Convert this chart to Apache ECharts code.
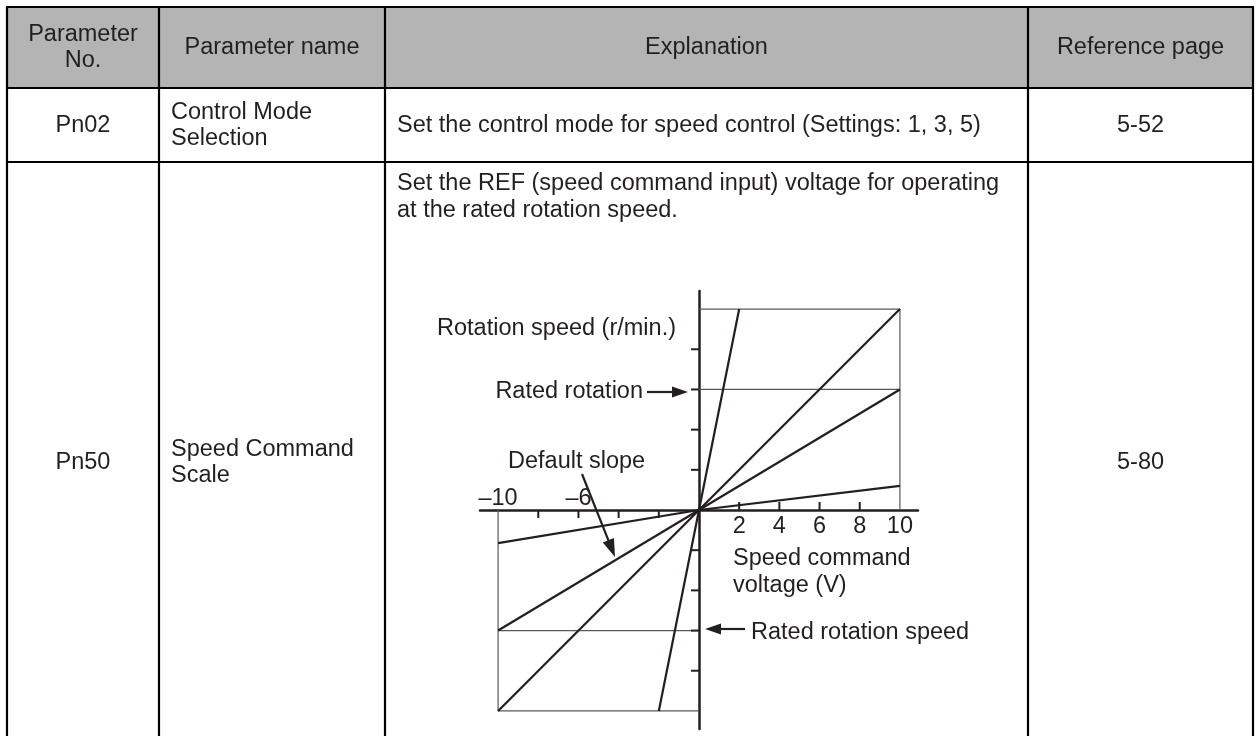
<!DOCTYPE html>
<html>
<head>
<meta charset="utf-8">
<script src="https://cdn.jsdelivr.net/npm/echarts@6/dist/echarts.min.js"></script>
<style>html,body{margin:0;padding:0;background:#fff}#c{width:1256px;height:736px}</style>
</head>
<body>
<div id="c"></div>
<script>
// ---------- table content ----------
const headers = ['Parameter\nNo.', 'Parameter name', 'Explanation', 'Reference page'];
const paramNos = ['Pn02', 'Pn50'];
const paramNames = ['Control Mode\nSelection', 'Speed Command\nScale'];
const explanations = ['Set the control mode for speed control (Settings: 1, 3, 5)',
  'Set the REF (speed command input) voltage for operating\nat the rated rotation speed.'];
const refPages = ['5-52', '5-80'];

// ---------- chart data ----------
const voltageTicksPos = [2, 4, 6, 8];
const voltageLabelsPos = [2, 4, 6, 8, 10];
const voltageTicksNeg = [-8, -6, -4, -2];
const voltageLabelsNeg = [-10, -6];
const speedTicks = [-8, -6, -4, -2, 2, 4, 6, 8];
const slopeSteep = [[-2, -10], [0, 0], [2, 10]];
const slopeMid = [[-10, -10], [0, 0], [10, 10]];
const slopeDefault = [[-10, -6], [0, 0], [10, 6]];
const slopeFlat = [[-10, -1.65], [0, 0], [10, 1.2]];
const frameUpper = [[0, 10], [10, 10], [10, 0]];
const ratedUpper = [[0, 6], [10, 6]];
const frameLower = [[0, -10], [-10, -10], [-10, 0]];
const ratedLower = [[-10, -6], [0, -6]];
const annotationTexts = ['Rotation speed (r/min.)', 'Rated rotation', 'Default slope',
  'Speed command\nvoltage (V)', 'Rated rotation speed'];

// ---------- rendering ----------
const FONT = '"Liberation Sans", Arial, Helvetica, sans-serif';
const FS = 23.5;
const INK = '#231f20';
const colX = [7, 159, 385, 1028, 1253];
const rowY = [7, 88, 162, 736];

function txt(text, x, y, align, lh) {
  return {type: 'text', z: 10, silent: true,
    style: {text: text, x: x, y: y, align: align, verticalAlign: 'middle',
      fontSize: FS, fontFamily: FONT, fill: INK, lineHeight: lh || 26}};
}
function seg(x1, y1, x2, y2, w, c) {
  return {type: 'line', z: 9, silent: true, shape: {x1: x1, y1: y1, x2: x2, y2: y2},
    style: {stroke: c || '#000', lineWidth: w || 2}};
}
function arrow(x1, y1, x2, y2, len, half) {
  const dx = x2 - x1, dy = y2 - y1, L = Math.hypot(dx, dy), ux = dx / L, uy = dy / L;
  const bx = x2 - ux * len, by = y2 - uy * len;
  return [seg(x1, y1, bx + ux, by + uy, 2.2, INK),
    {type: 'polygon', z: 10, silent: true,
      shape: {points: [[x2, y2], [bx - uy * half, by + ux * half], [bx + uy * half, by - ux * half]]},
      style: {fill: INK}}];
}

const g = [];
g.push({type: 'rect', z: 1, silent: true, shape: {x: colX[0], y: rowY[0], width: colX[4] - colX[0], height: rowY[1] - rowY[0]}, style: {fill: '#b4b4b4'}});
for (let i = 0; i < 3; i++) g.push(seg(colX[0] - 1, rowY[i], colX[4] + 1, rowY[i], 2.2));
colX.forEach(x => g.push(seg(x, rowY[0], x, rowY[3], 2.2)));
const hc = (rowY[0] + rowY[1]) / 2;
headers.forEach((h, i) => g.push(txt(h, (colX[i] + colX[i + 1]) / 2, hc, 'center')));
const rowCenters = [126, 463];
for (let r = 0; r < 2; r++) {
  g.push(txt(paramNos[r], (colX[0] + colX[1]) / 2, rowCenters[r], 'center'));
  g.push(txt(paramNames[r], colX[1] + 12, rowCenters[r], 'left'));
  g.push(txt(refPages[r], (colX[3] + colX[4]) / 2, rowCenters[r], 'center'));
}
g.push(txt(explanations[0], colX[2] + 12, rowCenters[0], 'left'));
g.push(txt(explanations[1], colX[2] + 12, 197, 'left', 27));
g.push(txt(annotationTexts[0], 437, 329, 'left'));
g.push(txt(annotationTexts[1], 643, 392, 'right'));
g.push(...arrow(647, 392, 688, 392, 16, 5.5));
g.push(txt(annotationTexts[2], 508, 462, 'left'));
g.push(...arrow(582, 474, 615, 557, 18, 6));
g.push(txt(annotationTexts[3], 733, 572.5, 'left', 27));
g.push(txt(annotationTexts[4], 751, 633, 'left'));
g.push(...arrow(745, 629, 705, 629, 16, 5.5));

function lineSeries(data, width, color, z) {
  return {type: 'line', data: data, xAxisIndex: 0, yAxisIndex: 0, showSymbol: false, symbol: 'none',
    lineStyle: {width: width, color: color}, silent: true, z: z, animation: false};
}
function tickSeries(items, dx, dy) {
  return {type: 'custom', coordinateSystem: 'cartesian2d', silent: true, clip: false, z: 6, animation: false,
    data: items,
    renderItem: function (params, api) {
      const p = api.coord([api.value(0), api.value(1)]);
      return {type: 'line', shape: {x1: p[0], y1: p[1], x2: p[0] + dx, y2: p[1] + dy},
        style: {stroke: INK, lineWidth: 2}};
    }};
}
function labelSeries(values, dy, fmt) {
  return {type: 'custom', coordinateSystem: 'cartesian2d', silent: true, clip: false, z: 6, animation: false,
    data: values.map(v => [v, 0]),
    renderItem: function (params, api) {
      const v = api.value(0);
      const p = api.coord([v, 0]);
      return {type: 'text', style: {text: fmt(v), x: p[0], y: p[1] + dy, align: 'center', verticalAlign: 'middle',
        fontSize: FS, fontFamily: FONT, fill: INK}};
    }};
}

const AX_MIN = -10.9, AX_MAX = 10.9;
const option = {
  animation: false,
  grid: {left: 480, top: 291, width: 438, height: 438, containLabel: false},
  xAxis: {
    type: 'value', min: AX_MIN, max: AX_MAX,
    axisLine: {onZero: true, lineStyle: {color: INK, width: 2.5}},
    axisTick: {show: false}, axisLabel: {show: false}, splitLine: {show: false}
  },
  yAxis: {
    type: 'value', min: AX_MIN, max: AX_MAX,
    axisLine: {onZero: true, lineStyle: {color: INK, width: 2.5}},
    axisTick: {show: false}, axisLabel: {show: false}, splitLine: {show: false}
  },
  series: [
    lineSeries(frameUpper, 1.2, '#58595b', 2),
    lineSeries(ratedUpper, 1.2, '#58595b', 2),
    lineSeries(frameLower, 1.2, '#58595b', 2),
    lineSeries(ratedLower, 1.2, '#58595b', 2),
    lineSeries(slopeSteep, 2.2, INK, 3),
    lineSeries(slopeMid, 2.2, INK, 3),
    lineSeries(slopeDefault, 2.2, INK, 3),
    lineSeries(slopeFlat, 2.2, INK, 3),
    tickSeries(voltageTicksPos.map(v => [v, 0]), 0, -8),
    tickSeries(voltageTicksNeg.map(v => [v, 0]), 0, 8),
    tickSeries(speedTicks.map(v => [0, v]), -8, 0),
    labelSeries(voltageLabelsPos, 16.5, v => String(v)),
    labelSeries(voltageLabelsNeg, -11, v => '\u2013' + Math.abs(v))
  ],
  graphic: {elements: g}
};
const chart = echarts.init(document.getElementById('c'), null, {renderer: 'canvas'});
chart.setOption(option);
</script>
</body>
</html>
